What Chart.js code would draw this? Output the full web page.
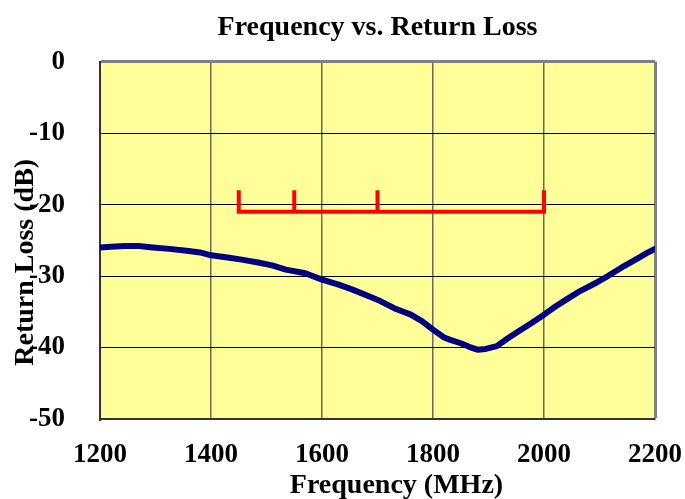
<!DOCTYPE html>
<html>
<head>
<meta charset="utf-8">
<script src="https://cdn.jsdelivr.net/npm/chart.js@4.4.1/dist/chart.umd.min.js"></script>
<style>
  html, body { margin: 0; padding: 0; background: #ffffff; }
  #wrap { width: 685px; height: 499px; }
</style>
</head>
<body>
<div id="wrap"><canvas id="c" width="685" height="499"></canvas></div>
<script>
// ---- data ----
const CHART_TITLE = "Frequency vs. Return Loss";
const X_TITLE = "Frequency (MHz)";
const Y_TITLE = "Return Loss (dB)";

const freqMHz = [1200,1220,1245,1270,1295,1325,1360,1380,1400,1430,1455,1485,1510,1535,1570,1600,1630,1655,1680,1705,1730,1760,1780,1800,1820,1830,1850,1865,1880,1895,1915,1935,1955,1975,2000,2020,2040,2065,2095,2115,2140,2165,2185,2200];
const returnLossDB = [-26.0,-25.9,-25.8,-25.8,-26.0,-26.2,-26.5,-26.7,-27.1,-27.4,-27.7,-28.1,-28.5,-29.1,-29.6,-30.5,-31.2,-31.9,-32.7,-33.5,-34.5,-35.4,-36.3,-37.5,-38.6,-38.9,-39.4,-39.9,-40.3,-40.2,-39.8,-38.7,-37.7,-36.7,-35.4,-34.3,-33.3,-32.1,-30.9,-30.0,-28.8,-27.7,-26.8,-26.2];

// band marker (red bracket)
const bandX = [1450,1450,1550,1550,1550,1700,1700,1700,2000,2000];
const bandY = [-18,-21,-21,-18,-21,-21,-18,-21,-21,-18];

const xTicks = [1200,1400,1600,1800,2000,2200];
const yTicks = [0,-10,-20,-30,-40,-50];

// ---- styles ----
const FONT = "'Liberation Serif','Times New Roman',serif";

const bgPlugin = {
  id: 'bg',
  beforeDraw(chart) {
    const { ctx, chartArea: a } = chart;
    ctx.save();
    ctx.fillStyle = '#ffffff';
    ctx.fillRect(0, 0, chart.width, chart.height);
    ctx.fillStyle = '#FFFF99';
    ctx.fillRect(a.left, a.top, a.right - a.left, a.bottom - a.top);
    ctx.restore();
  }
};

const axisTitlePlugin = {
  id: 'axisTitles',
  afterDraw(chart) {
    const { ctx, chartArea: a } = chart;
    ctx.save();
    ctx.fillStyle = '#000';
    ctx.font = "bold 28px " + FONT;
    ctx.textAlign = 'center';
    ctx.textBaseline = 'alphabetic';
    // x title
    ctx.fillText(X_TITLE, (a.left + a.right) / 2 + 19, chart.height - 6);
    // y title
    ctx.translate(33, (a.top + a.bottom) / 2 + 22);
    ctx.rotate(-Math.PI / 2);
    ctx.fillText(Y_TITLE, 0, 0);
    ctx.restore();
  }
};

new Chart(document.getElementById('c'), {
  type: 'scatter',
  data: {
    datasets: [
      {
        label: 'Return Loss',
        data: freqMHz.map((f, i) => ({ x: f, y: returnLossDB[i] })),
        showLine: true,
        borderColor: '#000080',
        borderWidth: 6,
        pointRadius: 0,
        tension: 0,
        borderCapStyle: 'round',
        borderJoinStyle: 'round'
      },
      {
        label: 'Band',
        data: bandX.map((f, i) => ({ x: f, y: bandY[i] })),
        showLine: true,
        borderColor: '#FF0000',
        borderWidth: 4,
        pointRadius: 0,
        tension: 0,
        borderCapStyle: 'butt',
        borderJoinStyle: 'miter'
      }
    ]
  },
  options: {
    responsive: false,
    animation: false,
    layout: { padding: { left: 0, right: 30, top: 0, bottom: 0 } },
    plugins: {
      legend: { display: false },
      tooltip: { enabled: false },
      title: {
        display: true,
        text: CHART_TITLE,
        fullSize: false,
        color: '#000',
        font: { family: FONT, size: 28, weight: 'bold' },
        padding: { top: 11, bottom: 17 }
      }
    },
    scales: {
      x: {
        type: 'linear',
        min: 1200,
        max: 2200,
        afterBuildTicks(scale) { scale.ticks = xTicks.map(v => ({ value: v })); },
        afterFit(scale) { scale.height = 80; scale.paddingLeft = 0; scale.paddingRight = 0; },
        grid: {
          drawTicks: false,
          color: (c) => (c.tick && c.tick.value === 2200) ? '#808080' : '#6a6a5a',
          lineWidth: (c) => (c.tick && c.tick.value === 2200) ? 3 : 1.5
        },
        border: { display: true, color: '#333', width: 2 },
        ticks: {
          color: '#000',
          padding: 20,
          maxRotation: 0,
          callback: (v) => String(v),
          font: { family: FONT, size: 27, weight: 'bold' }
        }
      },
      y: {
        type: 'linear',
        min: -50,
        max: 0,
        afterBuildTicks(scale) { scale.ticks = yTicks.map(v => ({ value: v })); },
        afterFit(scale) { scale.width = 100; },
        grid: {
          drawTicks: false,
          color: (c) => (c.tick && c.tick.value === 0) ? '#808080' : '#000',
          lineWidth: (c) => (c.tick && c.tick.value === 0) ? 3 : 1
        },
        border: { display: true, color: '#333', width: 2 },
        ticks: {
          color: '#000',
          padding: 35,
          callback: (v) => String(v),
          font: { family: FONT, size: 27, weight: 'bold' }
        }
      }
    }
  },
  plugins: [bgPlugin, axisTitlePlugin]
});
</script>
</body>
</html>
